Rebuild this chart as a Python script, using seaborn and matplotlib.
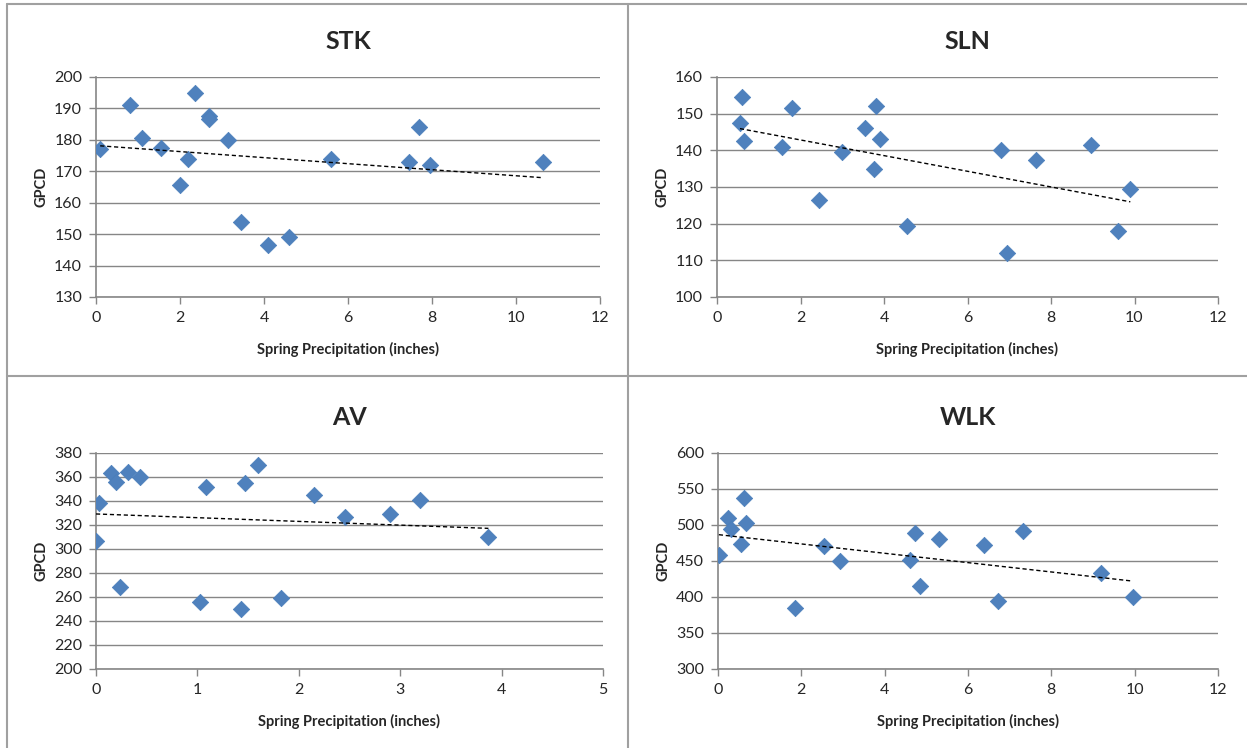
import seaborn as sns
import pandas as pd
import matplotlib.pyplot as plt
from matplotlib.lines import Line2D

# spring precipitation (inches) vs GPCD, per city
stk_x = [0.1, 0.8, 1.1, 1.55, 2.0, 2.2, 2.35, 2.7, 2.7, 3.15, 3.45, 4.1, 4.6, 5.6, 7.45, 7.7, 7.95, 10.65]
stk_y = [177, 191, 180.5, 177.5, 165.5, 174, 195, 187.5, 186.5, 180, 154, 146.5, 149, 174, 173, 184, 172, 173]

sln_x = [0.55, 0.6, 0.65, 1.55, 1.8, 2.45, 3.0, 3.55, 3.75, 3.8, 3.9, 4.55, 6.8, 6.95, 7.65, 8.95, 9.6, 9.9]
sln_y = [147.5, 154.5, 142.5, 141, 151.5, 126.5, 139.5, 146, 135, 152, 143, 119.5, 140, 112, 137.5, 141.5, 118, 129.5]

av_x = [0.0, 0.03, 0.15, 0.2, 0.24, 0.32, 0.43, 1.03, 1.08, 1.43, 1.47, 1.6, 1.82, 2.15, 2.46, 2.9, 3.2, 3.87]
av_y = [307, 338, 363, 356, 268, 364, 360, 256, 352, 250, 355, 370, 259, 345, 327, 329, 341, 310]

wlk_x = [0.02, 0.25, 0.3, 0.55, 0.62, 0.68, 1.85, 2.55, 2.92, 4.6, 4.72, 4.85, 5.3, 6.38, 6.72, 7.32, 9.18, 9.95]
wlk_y = [459, 510, 495, 474, 538, 503, 385, 471, 450, 451, 489, 415, 481, 472, 395, 492, 434, 400]

sns.set_style("white")
plt.rcParams["font.family"] = ["Lato", "DejaVu Sans"]

fig = plt.figure(figsize=(12.47, 7.48), dpi=100)

panels = [
    ("STK", stk_x, stk_y, [96, 77, 600, 297], (0, 12, 2), (130, 200, 10)),
    ("SLN", sln_x, sln_y, [717, 77, 1218, 297], (0, 12, 2), (100, 160, 10)),
    ("AV", av_x, av_y, [96, 453, 603, 669], (0, 5, 1), (200, 380, 20)),
    ("WLK", wlk_x, wlk_y, [718, 453, 1218, 669], (0, 12, 2), (300, 600, 50)),
]

W, H = 1247, 748
grey = "#868686"

for name, xs, ys, box, xr, yr in panels:
    l, t, r, b = box
    ax = fig.add_axes([l / W, 1 - b / H, (r - l) / W, (b - t) / H])
    df = pd.DataFrame({"x": xs, "y": ys})
    ax.set_axisbelow(True)
    sns.scatterplot(data=df, x="x", y="y", marker="D", s=70, color="#4F81BD",
                    edgecolor="#4A7EBB", linewidth=0.5, ax=ax, zorder=3)
    sns.regplot(data=df, x="x", y="y", scatter=False, ci=None, ax=ax,
                line_kws=dict(color="black", lw=1, ls=(0, (3, 2)), zorder=4))
    ax.set_xlim(xr[0], xr[1])
    ax.set_ylim(yr[0], yr[1])
    ax.set_xticks(range(xr[0], xr[1] + 1, xr[2]))
    ax.set_yticks(range(yr[0], yr[1] + 1, yr[2]))
    ax.yaxis.grid(True, color=grey, lw=1)
    for s in ["top", "right"]:
        ax.spines[s].set_visible(False)
    for s in ["left", "bottom"]:
        ax.spines[s].set_color(grey)
        ax.spines[s].set_linewidth(1.2)
    ax.tick_params(axis="both", which="both", direction="out", length=5, width=1,
                   color=grey, labelsize=11.5, pad=5, left=True, bottom=True)
    ax.set_title(name, fontsize=18, fontweight="bold", pad=20)
    ax.set_xlabel("Spring Precipitation (inches)", fontsize=10.5, fontweight="bold", labelpad=12)
    ax.set_ylabel("GPCD", fontsize=10.5, fontweight="bold", labelpad=4)

# chart area borders
border = "#A0A0A0"
fig.add_artist(Line2D([7 / W, 1], [1 - 4 / H, 1 - 4 / H], color=border, lw=1.5, transform=fig.transFigure))
fig.add_artist(Line2D([7 / W, 7 / W], [0, 1 - 4 / H], color=border, lw=1.5, transform=fig.transFigure))
fig.add_artist(Line2D([628 / W, 628 / W], [0, 1 - 4 / H], color=border, lw=1.5, transform=fig.transFigure))
fig.add_artist(Line2D([7 / W, 1], [1 - 376 / H, 1 - 376 / H], color=border, lw=1.5, transform=fig.transFigure))

plt.savefig("out.png", dpi=100)
